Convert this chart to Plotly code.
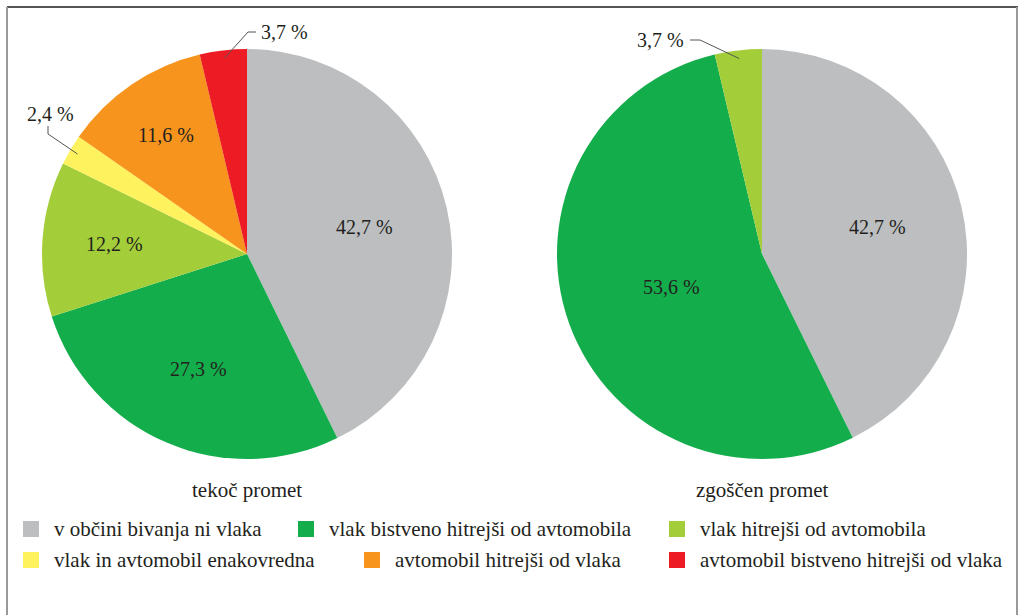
import math
import plotly.graph_objects as go

# podatki
labels = [
    "v občini bivanja ni vlaka",
    "vlak bistveno hitrejši od avtomobila",
    "vlak hitrejši od avtomobila",
    "vlak in avtomobil enakovredna",
    "avtomobil hitrejši od vlaka",
    "avtomobil bistveno hitrejši od vlaka",
]
colors = ["#bcbec0", "#13ad4b", "#a3cd39", "#fff25f", "#f7941d", "#ed1c24"]

tekoc = [42.7, 27.3, 12.2, 2.4, 11.6, 3.7]
zgoscen = [42.7, 53.6, 3.7, 0, 0, 0]
titles = ["tekoč promet", "zgoščen promet"]

W, H = 1019, 615
FONT = "'Liberation Serif', 'Times New Roman', serif"
TXT = "#231f20"
R = 205
centers = [(247, 254), (762, 254)]
# radialni položaj notranjih oznak (delež polmera)
label_r = [[0.59, 0.61, 0.65, 0, 0.70, 0], [0.58, 0.47, 0, 0, 0, 0]]


def fmt(v):
    return f"{v:.1f}".replace(".", ",") + " %"


def X(x):
    return x / W


def Y(y):
    return 1 - y / H


def slice_point(vals, idx, cx, cy, frac):
    tot = sum(vals)
    mid = (sum(vals[:idx]) + vals[idx] / 2) / tot * 2 * math.pi
    return cx + frac * R * math.sin(mid), cy - frac * R * math.cos(mid)


fig = go.Figure()
annotations = []
shapes = []
for i, vals in enumerate([tekoc, zgoscen]):
    cx, cy = centers[i]
    fig.add_trace(go.Pie(
        labels=labels, values=vals, sort=False, direction="clockwise", rotation=0,
        marker=dict(colors=colors, line=dict(width=0)),
        textinfo="none", hoverinfo="label+percent", showlegend=False,
        domain=dict(x=[X(cx - R), X(cx + R)], y=[Y(cy + R), Y(cy - R)]),
    ))
    for j, v in enumerate(vals):
        if v >= 10:
            lx, ly = slice_point(vals, j, cx, cy, label_r[i][j])
            annotations.append(dict(x=X(lx), y=Y(ly), xref="paper", yref="paper",
                                    text=fmt(v), showarrow=False, xanchor="center",
                                    yanchor="middle",
                                    font=dict(family=FONT, size=20, color=TXT)))


# oznake za majhne izseke z vodilno črto
def small_label(pie, idx, pts, text_xy, anchor):
    vals = [tekoc, zgoscen][pie]
    cx, cy = centers[pie]
    tx, ty = slice_point(vals, idx, cx, cy, 0.96)
    path = f"M {X(tx)} {Y(ty)}" + "".join(f" L {X(px)} {Y(py)}" for px, py in pts)
    shapes.append(dict(type="path", xref="paper", yref="paper", path=path,
                       line=dict(color="#555555", width=1)))
    lx, ly = text_xy
    annotations.append(dict(x=X(lx), y=Y(ly), xref="paper", yref="paper",
                            text=fmt(vals[idx]), showarrow=False, xanchor=anchor,
                            yanchor="middle", font=dict(family=FONT, size=20, color=TXT)))


small_label(0, 5, [(248, 32), (256, 32)], (259, 32), "left")
small_label(0, 3, [(48, 134), (48, 126)], (50, 114), "center")
small_label(1, 2, [(700, 40), (690, 40)], (686, 40), "right")

for i, t in enumerate(titles):
    cx, _ = centers[i]
    annotations.append(dict(x=X(cx), y=Y(490), xref="paper", yref="paper", text=t,
                            showarrow=False, xanchor="center", yanchor="middle",
                            font=dict(family=FONT, size=21, color=TXT)))

# legenda
leg_pos = [(23, 529), (298, 529), (669, 529), (23, 560), (364, 560), (669, 560)]
for lab, col, (lx, ly) in zip(labels, colors, leg_pos):
    shapes.append(dict(type="rect", xref="paper", yref="paper",
                       x0=X(lx), x1=X(lx + 16), y0=Y(ly + 8), y1=Y(ly - 8),
                       fillcolor=col, line=dict(width=0)))
    annotations.append(dict(x=X(lx + 29), y=Y(ly), xref="paper", yref="paper", text=lab,
                            showarrow=False, xanchor="left", yanchor="middle",
                            font=dict(family=FONT, size=21, color=TXT)))

# okvir
shapes.append(dict(type="line", xref="paper", yref="paper", x0=X(7), x1=X(1018),
                   y0=Y(7), y1=Y(7), line=dict(color="#555555", width=2)))
shapes.append(dict(type="line", xref="paper", yref="paper", x0=X(7), x1=X(7),
                   y0=Y(7), y1=Y(640), line=dict(color="#999999", width=2)))
shapes.append(dict(type="line", xref="paper", yref="paper", x0=X(1017), x1=X(1017),
                   y0=Y(7), y1=Y(640), line=dict(color="#999999", width=2)))

fig.update_layout(
    width=W, height=H, margin=dict(l=0, r=0, t=0, b=0),
    paper_bgcolor="white", plot_bgcolor="white",
    shapes=shapes, annotations=annotations,
    font=dict(family=FONT, color=TXT),
)
fig.write_html("out.html", config={"displayModeBar": False},
               post_script="document.body.style.margin='0';")
